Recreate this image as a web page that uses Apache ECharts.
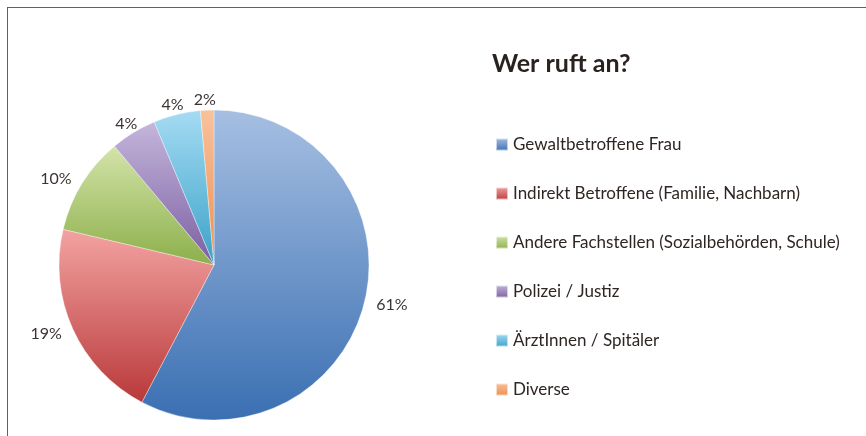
<!DOCTYPE html>
<html>
<head>
<meta charset="utf-8">
<script src="https://cdn.jsdelivr.net/npm/echarts@6/dist/echarts.min.js"></script>
<style>
  html, body { margin: 0; padding: 0; background: #fff; }
  .frame {
    position: absolute; left: 7px; top: 7px; width: 880px; height: 440px;
    border-top: 1.5px solid #66605b; border-left: 1.5px solid #66605b;
  }
  #chart { position: absolute; left: 0; top: 0; width: 866px; height: 436px; }
</style>
</head>
<body>
<div class="frame"></div>
<div id="chart"></div>
<script>
// Kategorien und Werte (Sektorgrössen aus dem Bild gemessen, Beschriftung wie gedruckt)
const categories = [
  "Gewaltbetroffene Frau",
  "Indirekt Betroffene (Familie, Nachbarn)",
  "Andere Fachstellen (Sozialbehörden, Schule)",
  "Polizei / Justiz",
  "ÄrztInnen / Spitäler",
  "Diverse"
];
const sliceValues = [57.7, 21.0, 10.2, 4.8, 4.9, 1.4];
const labelTexts = ["61%", "19%", "10%", "4%", "4%", "2%"];
// Verlauf je Sektor: oben hell, unten dunkel
const topColors = ["#a6bfe2", "#f3a3a2", "#d3e4a9", "#c4b6db", "#a5dbf3", "#f8c29d"];
const bottomColors = ["#3a6fb2", "#b9393a", "#8caf4a", "#7b5fa2", "#3aa2c8", "#ef8d4d"];

const chart = echarts.init(document.getElementById("chart"));

function grad(i) {
  return new echarts.graphic.LinearGradient(0, 0, 0, 1, [
    { offset: 0, color: topColors[i] },
    { offset: 1, color: bottomColors[i] }
  ]);
}

const data = categories.map(function (name, i) {
  return { name: name, value: sliceValues[i], itemStyle: { color: grad(i) } };
});

const total = sliceValues.reduce(function (a, b) { return a + b; }, 0);

chart.setOption({
  animation: false,
  title: {
    text: "Wer ruft an?",
    left: 487,
    top: 46,
    textStyle: { fontFamily: "Lato", fontSize: 25, fontWeight: "bold", color: "#2b2220" }
  },
  legend: {
    orient: "vertical",
    left: 490,
    top: 131,
    itemWidth: 12,
    itemHeight: 12,
    itemGap: 32,
    icon: "rect",
    textStyle: { fontFamily: "Lato", fontSize: 17, color: "#2f2623", lineHeight: 17 },
    data: categories
  },
  series: [
    {
      type: "pie",
      center: [214, 265],
      radius: 155,
      startAngle: 90,
      clockwise: true,
      avoidLabelOverlap: false,
      itemStyle: { borderColor: "rgba(255,255,255,0.6)", borderWidth: 0.6 },
      label: {
        show: true,
        position: "outside",
        fontFamily: "Lato",
        fontSize: 16,
        color: "#3c3431",
        distanceToLabelLine: 2,
        formatter: function (p) { return labelTexts[p.dataIndex]; }
      },
      labelLine: { show: false, length: 10, length2: 0 },
      // Beschriftungen nahe der Senkrechten zentriert setzen (wie im Original)
      labelLayout: function (params) {
        let before = 0;
        for (let k = 0; k < params.dataIndex; k++) before += sliceValues[k];
        const mid = (before + sliceValues[params.dataIndex] / 2) / total * 2 * Math.PI;
        if (Math.abs(Math.cos(mid)) > 0.8) return { align: "center" };
        return {};
      },
      emphasis: { disabled: true },
      data: data
    }
  ]
});
</script>
</body>
</html>
